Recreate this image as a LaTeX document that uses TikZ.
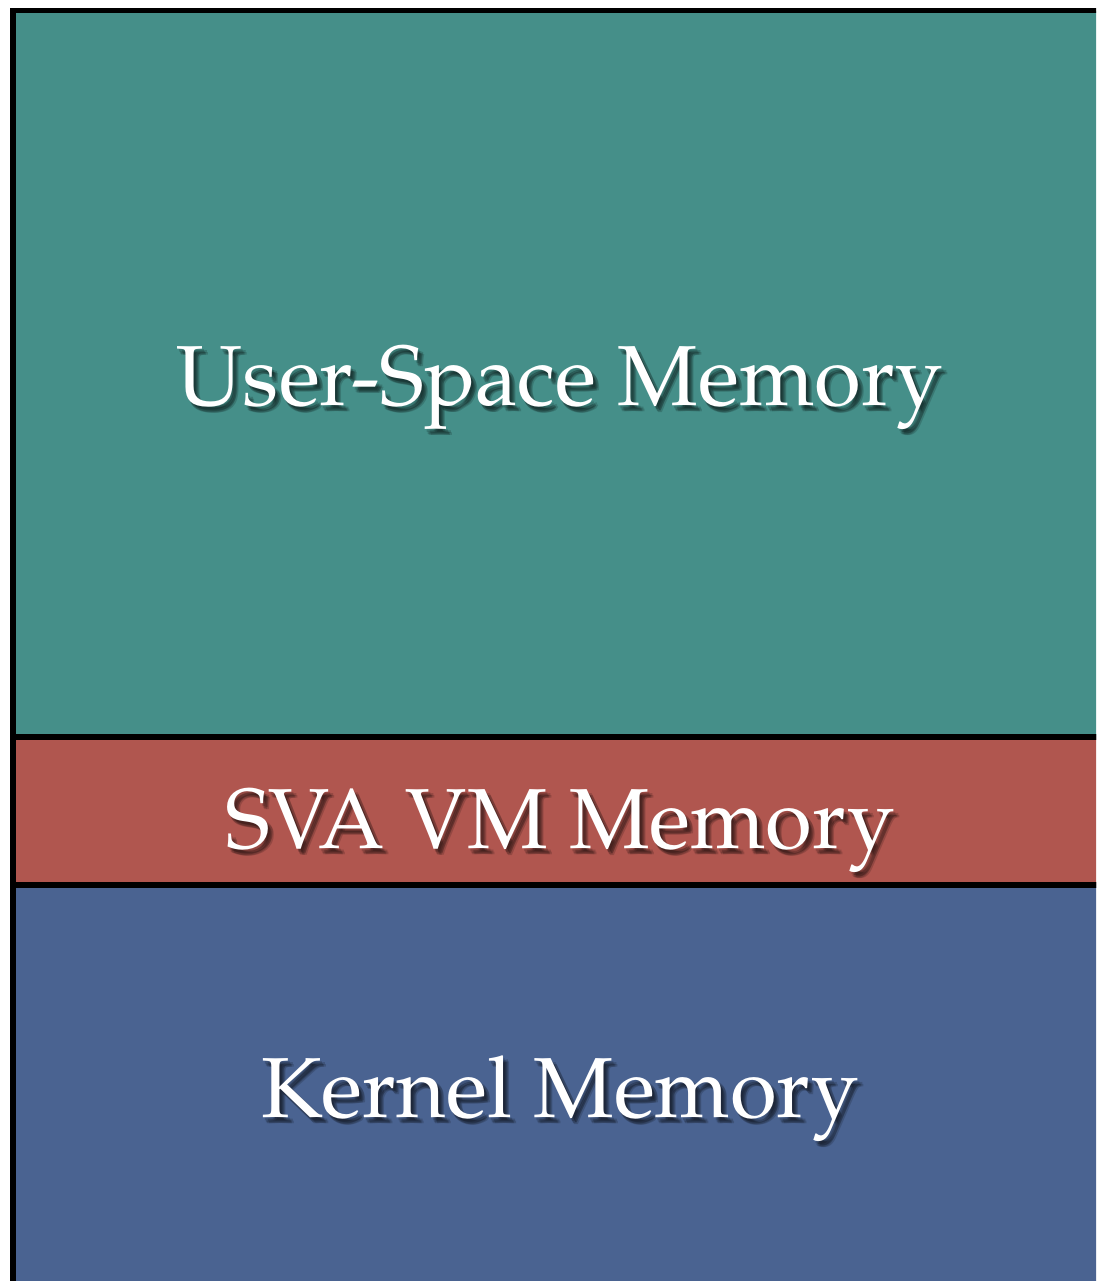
\documentclass[tikz,border=0pt]{standalone}
\usepackage{fontspec}
\setmainfont{TeX Gyre Pagella}
\definecolor{usercol}{RGB}{69,143,137}
\definecolor{svacol}{RGB}{176,86,79}
\definecolor{kernelcol}{RGB}{74,99,145}
\begin{document}
\begin{tikzpicture}[x=0.02cm,y=-0.02cm]
  \tikzstyle{region}=[draw=black,line width=3pt];
  \tikzstyle{memtext}=[text=white,font=\fontsize{48.5}{54}\selectfont,inner sep=0pt];
  \tikzstyle{memshadow}=[text=black,opacity=0.16,font=\fontsize{48.5}{54}\selectfont,inner sep=0pt];

  % page
  \fill[white] (0,0) rectangle (1096,1281);
  \useasboundingbox (0,0) rectangle (1096,1281);
  \clip (0,0) rectangle (1096,1281);

  % the three memory regions
  \filldraw[region,fill=usercol] (13,10.5) rectangle (1110,737);
  \filldraw[region,fill=svacol] (13,737) rectangle (1110,885);
  \filldraw[region,fill=kernelcol] (13,885) rectangle (1110,1300);

  % soft shadows under the labels
  \foreach \dx/\dy in {2/3,3/5,5/4,4/6,6/6} {
    \node[memshadow] (usershadow\dx\dy) at (560+\dx,387+\dy) {User-Space Memory};
    \node[memshadow] (svashadow\dx\dy) at (560+\dx,830+\dy) {SVA VM Memory};
    \node[memshadow] (kernelshadow\dx\dy) at (560+\dx,1099+\dy) {Kernel Memory};
  }

  % labels
  \node[memtext] (user) at (560,387) {User-Space Memory};
  \node[memtext] (sva) at (560,830) {SVA VM Memory};
  \node[memtext] (kernel) at (560,1099) {Kernel Memory};
\end{tikzpicture}
\end{document}
